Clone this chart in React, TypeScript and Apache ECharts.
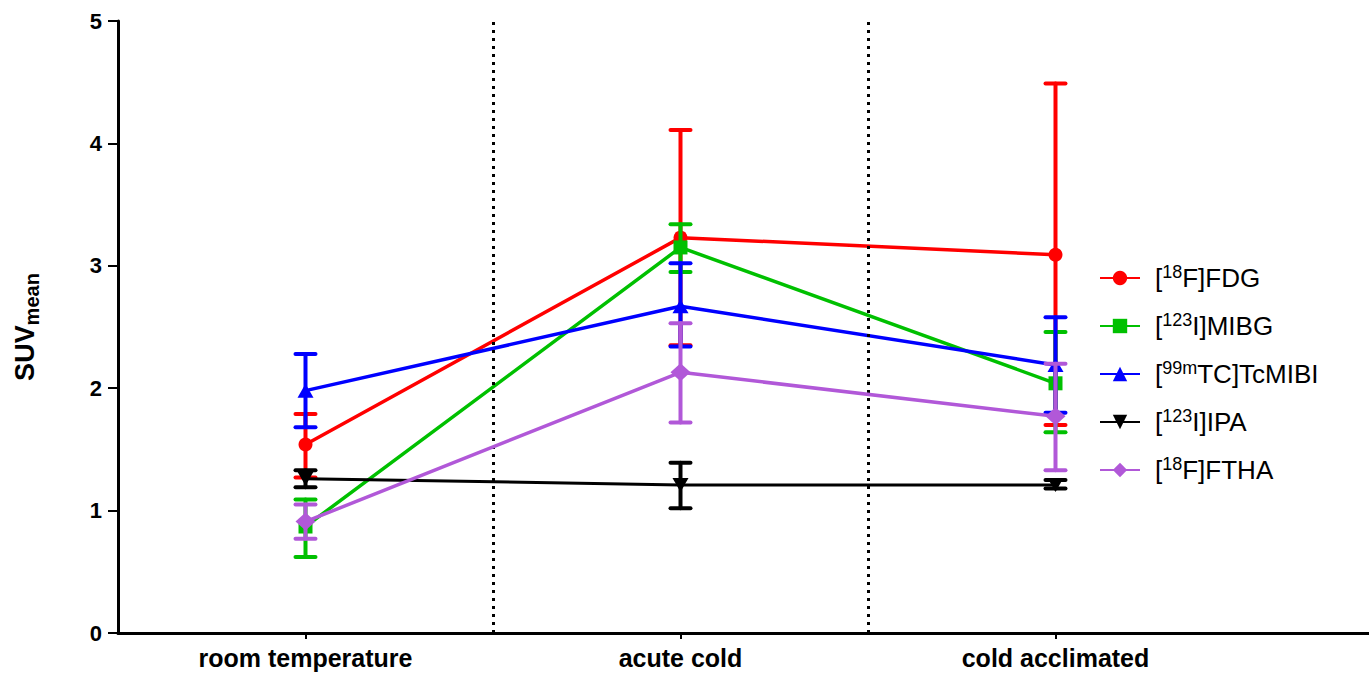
import React, { useEffect, useRef } from "react";
import * as echarts from "echarts";

const categories = ["room temperature", "acute cold", "cold acclimated"];
const catPositions = [0, 1, 2];
const separators = [0.5, 1.5];
const yTicks = [0, 1, 2, 3, 4, 5];

const seriesNames = ["FDG", "MIBG", "TcMIBI", "IPA", "FTHA"];
const legendLabels = [
  "[{sup|18}F]FDG",
  "[{sup|123}I]MIBG",
  "[{sup|99m}TC]TcMIBI",
  "[{sup|123}I]IPA",
  "[{sup|18}F]FTHA",
];
const colors = ["#ff0000", "#00c000", "#0000ff", "#000000", "#b158d8"];
const symbols = [
  "circle",
  "rect",
  "triangle",
  "path://M0,0 L10,0 L5,10 Z",
  "diamond",
];

const fdgMean = [1.54, 3.23, 3.09];
const fdgLow = [1.27, 2.35, 1.7];
const fdgHigh = [1.79, 4.11, 4.49];

const mibgMean = [0.87, 3.15, 2.04];
const mibgLow = [0.62, 2.95, 1.64];
const mibgHigh = [1.09, 3.34, 2.46];

const tcMean = [1.98, 2.67, 2.19];
const tcLow = [1.68, 2.34, 1.8];
const tcHigh = [2.28, 3.02, 2.58];

const ipaMean = [1.26, 1.21, 1.21];
const ipaLow = [1.19, 1.02, 1.18];
const ipaHigh = [1.33, 1.39, 1.25];

const fthaMean = [0.91, 2.13, 1.77];
const fthaLow = [0.77, 1.72, 1.33];
const fthaHigh = [1.05, 2.53, 2.2];

const means = [fdgMean, mibgMean, tcMean, ipaMean, fthaMean];
const lows = [fdgLow, mibgLow, tcLow, ipaLow, fthaLow];
const highs = [fdgHigh, mibgHigh, tcHigh, ipaHigh, fthaHigh];

export default function App() {
  const ref = useRef<HTMLDivElement>(null);
  useEffect(() => {
    if (!ref.current) return;
    const chart = echarts.init(ref.current, null, { renderer: "svg" });
    const font = "'Liberation Sans', Arial, sans-serif";

    const series: any[] = [];
    seriesNames.forEach((name, i) => {
      const color = colors[i];
      const lw = i === 3 ? 3 : 3.5;
      series.push({
        type: "custom",
        name: name + "_err",
        z: 2 + i,
        renderItem: (params: any, api: any) => {
          const x = api.value(0);
          const lo = api.coord([x, api.value(1)]);
          const hi = api.coord([x, api.value(2)]);
          const hw = 10;
          const st = { stroke: color, lineWidth: 4, lineCap: "round" };
          return {
            type: "group",
            children: [
              { type: "line", shape: { x1: lo[0], y1: lo[1], x2: hi[0], y2: hi[1] }, style: st },
              { type: "line", shape: { x1: lo[0] - hw, y1: lo[1], x2: lo[0] + hw, y2: lo[1] }, style: st },
              { type: "line", shape: { x1: hi[0] - hw, y1: hi[1], x2: hi[0] + hw, y2: hi[1] }, style: st },
            ],
          };
        },
        data: catPositions.map((x, k) => [x, lows[i][k], highs[i][k]]),
        silent: true,
      });
      series.push({
        type: "line",
        name,
        z: 2 + i,
        data: catPositions.map((x, k) => [x, means[i][k]]),
        symbol: symbols[i],
        symbolSize: i === 3 ? [16, 14] : i === 4 ? [20, 18] : i === 2 ? [16, 14] : 14,
        itemStyle: { color },
        lineStyle: { color, width: lw },
        ...(i === 0
          ? {
              markLine: {
                silent: true,
                symbol: "none",
                label: { show: false },
                lineStyle: { color: "#000", type: [3, 5], width: 3 },
                data: separators.map((s) => ({ xAxis: s })),
              },
            }
          : {}),
      });
    });

    chart.setOption({
      animation: false,
      backgroundColor: "#fff",
      grid: { left: 118, top: 21, bottom: 41, right: 0, containLabel: false },
      legend: {
        data: seriesNames,
        orient: "vertical",
        left: 1094,
        top: 258,
        itemWidth: 40,
        itemHeight: 18,
        itemGap: 18,
        formatter: (n: string) => legendLabels[seriesNames.indexOf(n)],
        textStyle: {
          fontFamily: font,
          fontSize: 26,
          color: "#000",
          lineHeight: 30,
          padding: [0, 0, 0, 10],
          rich: {
            sup: { fontSize: 18, fontFamily: font, color: "#000", padding: [0, 0, 12, 0] },
          },
        },
      },
      xAxis: {
        type: "value",
        min: -0.5,
        max: 2.836,
        interval: 0.5,
        splitLine: { show: false },
        axisLine: { lineStyle: { color: "#000", width: 3 } },
        axisTick: { customValues: catPositions, length: 6, lineStyle: { color: "#000", width: 2 } },
        axisLabel: {
          customValues: catPositions,
          formatter: (v: number) => categories[Math.round(v)] ?? "",
          fontFamily: font,
          fontWeight: "bold",
          fontSize: 25,
          color: "#000",
          margin: 12,
        },
      },
      yAxis: {
        type: "value",
        min: 0,
        max: 5,
        interval: 1,
        splitLine: { show: false },
        axisLine: { show: true, onZero: false, lineStyle: { color: "#000", width: 3 } },
        axisTick: { show: true, length: 10, lineStyle: { color: "#000", width: 2 } },
        axisLabel: {
          formatter: (v: number) => (yTicks.includes(v) ? String(v) : ""),
          fontFamily: font,
          fontWeight: "bold",
          fontSize: 22,
          color: "#000",
          margin: 16,
        },
        name: "{a|SUV}{b|mean}",
        nameLocation: "middle",
        nameGap: 76,
        nameRotate: 90,
        nameTextStyle: {
          rich: {
            a: { fontFamily: font, fontWeight: "bold", fontSize: 27, color: "#000" },
            b: { fontFamily: font, fontWeight: "bold", fontSize: 20, color: "#000", padding: [14, 0, 0, 0] },
          },
        },
      },
      series,
    });
    return () => chart.dispose();
  }, []);
  return <div ref={ref} style={{ position: "fixed", left: 0, top: 0, width: 1369, height: 674 }} />;
}
